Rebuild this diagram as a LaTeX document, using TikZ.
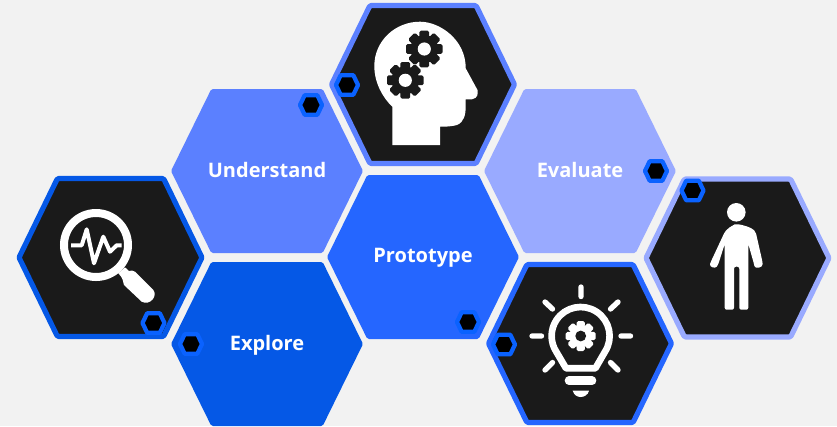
\documentclass[tikz,border=0pt]{standalone}
\usepackage{fontspec}
\setmainfont{Open Sans}
\definecolor{bgc}{HTML}{F2F2F2}
\definecolor{cUnder}{HTML}{5B80FF}
\definecolor{cProto}{HTML}{2566FF}
\definecolor{cExpl}{HTML}{0558E6}
\definecolor{cEval}{HTML}{99AAFF}
\definecolor{cDark}{HTML}{1A1A1A}
\definecolor{cBadge}{HTML}{0A62FF}
% centre x, centre y, half width, half height
\newcommand{\hexpath}[4]{(#1-#3,#2) -- (#1-#3+0.42*#3,#2-#4) -- (#1+#3-0.42*#3,#2-#4) -- (#1+#3,#2) -- (#1+#3-0.42*#3,#2+#4) -- (#1-#3+0.42*#3,#2+#4) -- cycle}
\newcommand{\solidhex}[3]{\fill[#3,rounded corners=1.2pt] \hexpath{#1}{#2}{96}{82};}
\newcommand{\darkhex}[3]{\draw[fill=cDark,draw=#3,line width=3.9pt,rounded corners=1pt,line join=round] \hexpath{#1}{#2}{91.5}{79};}
\newcommand{\badge}[2]{\draw[fill=black,draw=cBadge,line width=3.2pt,line join=round] \hexpath{#1}{#2}{11}{9.7};}
% centre x, centre y, outer radius, tooth colour, hole colour
\newcommand{\gear}[5]{%
  \fill[#4] (#1,#2) circle[radius=#3*0.76];
  \foreach \a in {0,45,...,315}{
    \fill[#4,rotate around={\a:(#1,#2)},rounded corners=1.2pt] (#1-#3*0.27,#2-#3) rectangle (#1+#3*0.27,#2-#3*0.6);
  }
  \fill[#5] (#1,#2) circle[radius=#3*0.36];
}
\tikzset{lab/.style={text=white,font=\fontsize{15pt}{18pt}\selectfont\bfseries,inner sep=0pt,anchor=base}}
\begin{document}
\begin{tikzpicture}[x=0.75pt,y=-0.75pt]
\useasboundingbox (0,0) rectangle (837,426);
\fill[bgc] (0,0) rectangle (837,426);
\solidhex{267}{171}{cUnder}
\solidhex{423}{257}{cProto}
\solidhex{267}{344}{cExpl}
\solidhex{580}{171}{cEval}
\darkhex{423}{84.5}{cUnder}
\darkhex{110.5}{257.5}{cExpl}
\darkhex{580}{343.5}{cProto}
\darkhex{737.5}{258}{cEval}
\node[lab] (understand) at (267,177) {Understand};
\node[lab] (prototype) at (423,262) {Prototype};
\node[lab] (explore) at (267,350) {Explore};
\node[lab] (evaluate) at (580,177) {Evaluate};
% head
\fill[white] (392.3,145) -- (440,145) -- (440,126.7)
  .. controls (440,126.7) and (450,127) .. (457,125) .. controls (464,122) and (465.7,115) .. (465.7,106)
  -- (465.7,99.3) -- (472,99.3) .. controls (478,98) and (478,94) .. (477.5,90) -- (465.7,68.3)
  .. controls (466,40) and (440,21.7) .. (420,21.7)
  .. controls (395,21.7) and (374.3,41) .. (374.3,66)
  .. controls (374.3,83) and (383,98) .. (392.3,106.7) -- cycle;
\gear{424.3}{49}{18.3}{cDark}{white}
\gear{405.3}{80.3}{18.3}{cDark}{white}
% magnifier
\draw[white,line width=6pt] (96,245) circle[radius=32];
\fill[white] (118.3,273.3) -- (125,267.3) -- (129,271) .. controls (131,270.5) and (133,270) .. (135,271.7) -- (153.3,290)
  .. controls (158,296) and (150,306) .. (141.7,301.7) -- (124,285) .. controls (123,281) and (123,278) .. cycle;
\draw[white,line width=3pt,line join=round] (71,245.3) -- (81.7,245.3) -- (86.7,229.3) -- (94,263.3) -- (103.3,236.7) -- (110,251.7) -- (116.7,245.3) -- (121.7,245.3);
% bulb
\draw[white,line width=4pt,line cap=round] (581,287) -- (581,296.5) (532,336) -- (541.5,336) (621,336) -- (630.5,336) (545,302) -- (552.5,309) (618,302) -- (610.5,309) (545,370) -- (552.5,362.5) (618,370) -- (610.5,362.5);
\draw[white,line width=5pt,line join=round] (566,368.3) -- (595.4,368.3) -- (604.8,352) arc[start angle=33.5,end angle=-213.5,radius=29] -- cycle;
\draw[white,line width=6.5pt,line cap=round] (569,380.7) -- (592,380.7);
\fill[white] (572.7,390.7) -- (589,390.7) .. controls (588,395) and (584,397) .. (580.7,397) .. controls (577,397) and (574,395) .. (572.7,390.7) -- cycle;
\gear{580.7}{336}{15}{white}{cDark}
% person
\fill[white] (736.3,212.3) circle[radius=9.3];
\fill[white,rounded corners=1.5pt] (724.7,232) .. controls (730,226) and (736,224.3) .. (736.5,224.3) .. controls (738,224.3) and (750,226) .. (755.7,232)
  -- (762.5,262) .. controls (763,268) and (755,269) .. (754,264) -- (748.3,244) -- (748.3,309.7) -- (739.3,309.7) -- (739.3,266.7) -- (734,266.7) -- (734,309.7) -- (724.7,309.7) -- (724.7,244) -- (718,265) .. controls (715,269) and (709,267) .. (710.7,262) -- cycle;
% badges
\badge{311}{105}
\badge{347}{85}
\badge{153.5}{323}
\badge{191}{344}
\badge{468}{322}
\badge{504}{344.5}
\badge{656}{171}
\badge{692.5}{190.5}
\end{tikzpicture}
\end{document}
